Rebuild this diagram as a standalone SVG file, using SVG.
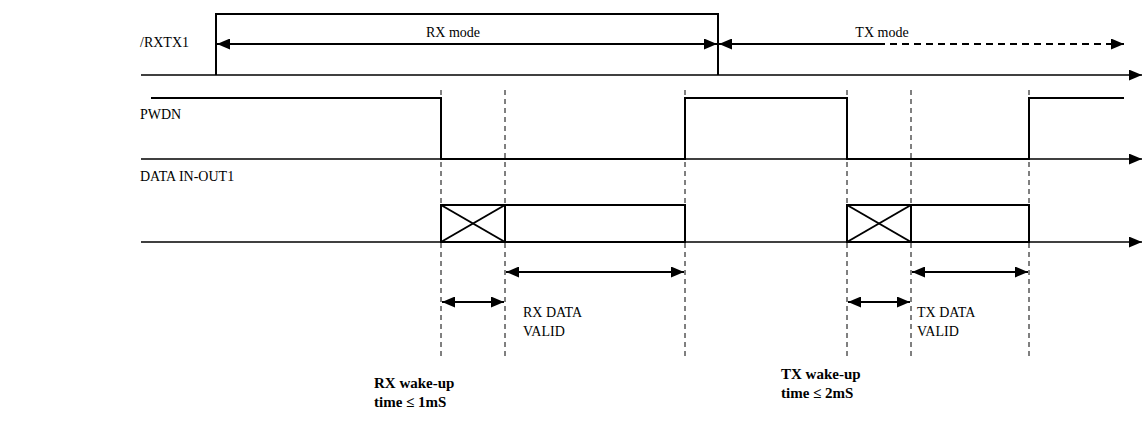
<svg xmlns="http://www.w3.org/2000/svg" width="1144" height="423" viewBox="0 0 1144 423">
<style>
.lbl{font-family:"Liberation Serif","Times New Roman",serif;font-size:14px;fill:#000}
.sm{font-family:"Liberation Serif","Times New Roman",serif;font-size:14px;fill:#000}
.bd{font-family:"Liberation Serif","Times New Roman",serif;font-size:15px;font-weight:bold;fill:#000}
.sig{fill:none;stroke:#000;stroke-width:2}
.axis{fill:none;stroke:#000;stroke-width:1.5}
.dash{fill:none;stroke:#000;stroke-width:1;stroke-dasharray:5,4}
.dim{fill:none;stroke:#000;stroke-width:2}
</style>
<defs>
<marker id="ah" viewBox="0 0 13 11" refX="13" refY="5.5" markerWidth="13" markerHeight="11" markerUnits="userSpaceOnUse" orient="auto-start-reverse">
<path d="M0,0 L13,5.5 L0,11 Z" fill="#000"/>
</marker>
<marker id="ax" viewBox="0 0 12 10" refX="12" refY="5" markerWidth="13" markerHeight="11" markerUnits="userSpaceOnUse" orient="auto">
<path d="M0,0 L12,5 L0,10 Z" fill="#000"/>
</marker>
</defs>
<rect width="1144" height="423" fill="#fff"/>
<g id="labels">
<text class="lbl" x="140" y="47">/RXTX1</text>
<text class="lbl" x="140" y="119">PWDN</text>
<text class="lbl" x="140" y="181">DATA IN-OUT1</text>
</g>
<g id="connectors">
<line class="dash" x1="441" y1="90" x2="441" y2="356"/>
<line class="dash" x1="505" y1="90" x2="505" y2="356"/>
<line class="dash" x1="685" y1="90" x2="685" y2="356"/>
<line class="dash" x1="847" y1="90" x2="847" y2="356"/>
<line class="dash" x1="911" y1="90" x2="911" y2="356"/>
<line class="dash" x1="1029" y1="90" x2="1029" y2="356"/>
<line class="axis" x1="141" y1="75" x2="1142" y2="75" marker-end="url(#ax)"/>
<line class="axis" x1="141" y1="159" x2="1142" y2="159" marker-end="url(#ax)"/>
<line class="axis" x1="141" y1="242" x2="1142" y2="242" marker-end="url(#ax)"/>
</g>
<g id="rxtx1">
<polyline class="sig" points="216,75 216,14 718,14 718,75"/>
<line class="dim" x1="217" y1="44" x2="717" y2="44" marker-start="url(#ah)" marker-end="url(#ah)"/>
<text class="sm" x="453" y="37" text-anchor="middle">RX mode</text>
<line class="dim" x1="719" y1="44" x2="878" y2="44" marker-start="url(#ah)"/>
<line class="dim" x1="878" y1="44" x2="1124" y2="44" stroke-dasharray="7,5" marker-end="url(#ah)"/>
<text class="sm" x="882" y="37" text-anchor="middle">TX mode</text>
</g>
<g id="pwdn">
<polyline class="sig" points="151,98 441,98 441,159 685,159 685,98 847,98 847,159 1029,159 1029,98 1124,98"/>
</g>
<g id="data">
<rect class="sig" x="441" y="205" width="64" height="37"/>
<line class="sig" x1="441" y1="205" x2="505" y2="242"/>
<line class="sig" x1="441" y1="242" x2="505" y2="205"/>
<rect class="sig" x="505" y="205" width="180" height="37"/>
<rect class="sig" x="847" y="205" width="64" height="37"/>
<line class="sig" x1="847" y1="205" x2="911" y2="242"/>
<line class="sig" x1="847" y1="242" x2="911" y2="205"/>
<rect class="sig" x="911" y="205" width="118" height="37"/>
</g>
<g id="rx-timing">
<line class="dim" x1="506" y1="272" x2="684" y2="272" marker-start="url(#ah)" marker-end="url(#ah)"/>
<line class="dim" x1="442" y1="302" x2="504" y2="302" marker-start="url(#ah)" marker-end="url(#ah)"/>
<text class="sm" x="523" y="317">RX DATA</text>
<text class="sm" x="523" y="336">VALID</text>
<text class="bd" x="374" y="388">RX wake-up</text>
<text class="bd" x="374" y="407">time ≤ 1mS</text>
</g>
<g id="tx-timing">
<line class="dim" x1="912" y1="272" x2="1028" y2="272" marker-start="url(#ah)" marker-end="url(#ah)"/>
<line class="dim" x1="848" y1="302" x2="910" y2="302" marker-start="url(#ah)" marker-end="url(#ah)"/>
<text class="sm" x="917" y="317">TX DATA</text>
<text class="sm" x="917" y="336">VALID</text>
<text class="bd" x="781" y="379">TX wake-up</text>
<text class="bd" x="781" y="398">time ≤ 2mS</text>
</g>
</svg>
